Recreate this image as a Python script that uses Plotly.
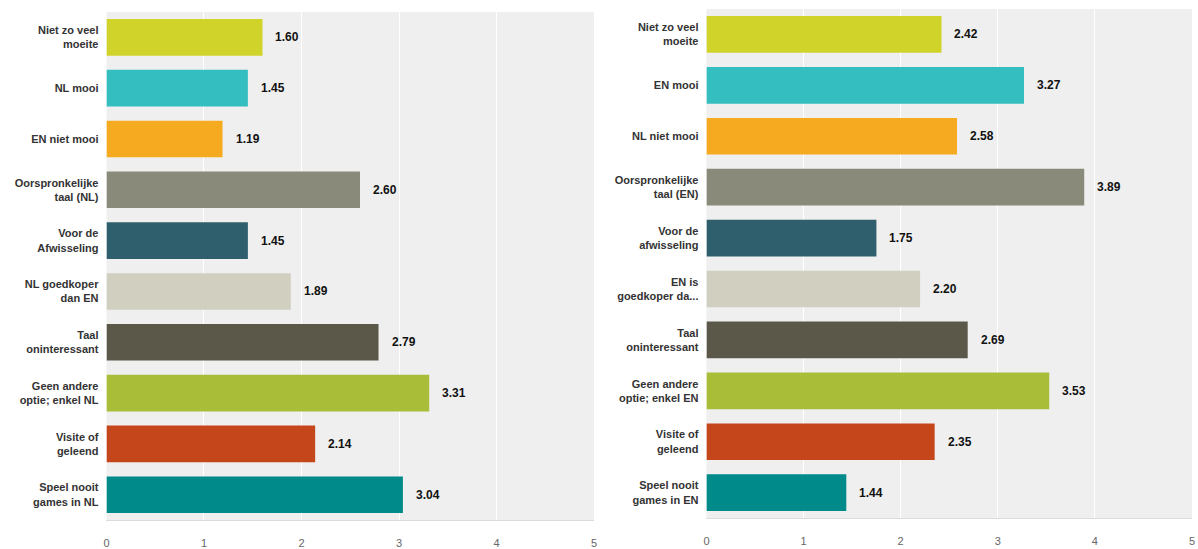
import plotly.graph_objects as go

# Left panel: Dutch-language reasons
nl_labels = [
    "Niet zo veel<br>moeite",
    "NL mooi",
    "EN niet mooi",
    "Oorspronkelijke<br>taal (NL)",
    "Voor de<br>Afwisseling",
    "NL goedkoper<br>dan EN",
    "Taal<br>oninteressant",
    "Geen andere<br>optie; enkel NL",
    "Visite of<br>geleend",
    "Speel nooit<br>games in NL",
]
nl_values = [1.60, 1.45, 1.19, 2.60, 1.45, 1.89, 2.79, 3.31, 2.14, 3.04]

# Right panel: English-language reasons
en_labels = [
    "Niet zo veel<br>moeite",
    "EN mooi",
    "NL niet mooi",
    "Oorspronkelijke<br>taal (EN)",
    "Voor de<br>afwisseling",
    "EN is<br>goedkoper da...",
    "Taal<br>oninteressant",
    "Geen andere<br>optie; enkel EN",
    "Visite of<br>geleend",
    "Speel nooit<br>games in EN",
]
en_values = [2.42, 3.27, 2.58, 3.89, 1.75, 2.20, 2.69, 3.53, 2.35, 1.44]

bar_colors = [
    "#cfd32a", "#34bec0", "#f6aa1f", "#8a8a7a", "#2f5e6d",
    "#d0cfc0", "#5b584a", "#a9bd38", "#c6461c", "#008a8a",
]

x_ticks = [0, 1, 2, 3, 4, 5]

fig = go.Figure()

panels = [
    ("x", "y", nl_labels, nl_values),
    ("x2", "y2", en_labels, en_values),
]

for xa, ya, labels, values in panels:
    # use category indices so identical labels stay separate per panel
    ids = [f"{ya}_{i}" for i in range(len(labels))]
    fig.add_trace(go.Bar(
        x=values, y=ids, orientation="h",
        marker=dict(color=bar_colors, line=dict(width=0)),
        width=0.72, xaxis=xa, yaxis=ya, showlegend=False,
        hoverinfo="x",
    ))
    for yid, v in zip(ids, values):
        fig.add_annotation(
            x=v, y=yid, xref=xa, yref=ya, text=f"<b>{v:.2f}</b>",
            showarrow=False, xanchor="left", xshift=11,
            font=dict(family="Liberation Sans, Arial, sans-serif", size=12, color="#111111"),
        )

axis_common = dict(
    range=[0, 5], tickvals=x_ticks, ticktext=[str(t) for t in x_ticks],
    showgrid=True, gridcolor="#ffffff", gridwidth=1, zeroline=False,
    showline=True, linecolor="#dcdcdc", linewidth=1,
    tickfont=dict(family="Liberation Sans, Arial, sans-serif", size=11, color="#666666"),
    ticks="", ticklabelstandoff=13, fixedrange=True,
)

yaxis_common = dict(
    autorange="reversed", showgrid=False, zeroline=False, ticks="",
    tickfont=dict(family="Liberation Sans, Arial, sans-serif", size=11, color="#333333"),
    ticklabelstandoff=7, fixedrange=True,
)

fig.update_layout(
    width=1198, height=549,
    margin=dict(l=0, r=0, t=0, b=0),
    paper_bgcolor="#ffffff", plot_bgcolor="#efefef",
    bargap=0.28,
    xaxis=dict(domain=[104 / 1198, 594 / 1198], anchor="y", **axis_common),
    yaxis=dict(domain=[1 - 523 / 549, 1 - 12 / 549], anchor="x",
               tickvals=[f"y_{i}" for i in range(10)], ticktext=[f"<b>{t}</b>" for t in nl_labels],
               **yaxis_common),
    xaxis2=dict(domain=[707 / 1198, 1195 / 1198], anchor="y2", **axis_common),
    yaxis2=dict(domain=[1 - 521 / 549, 1 - 9 / 549], anchor="x2",
                tickvals=[f"y2_{i}" for i in range(10)], ticktext=[f"<b>{t}</b>" for t in en_labels],
                **yaxis_common),
)

fig.write_html("out.html")
